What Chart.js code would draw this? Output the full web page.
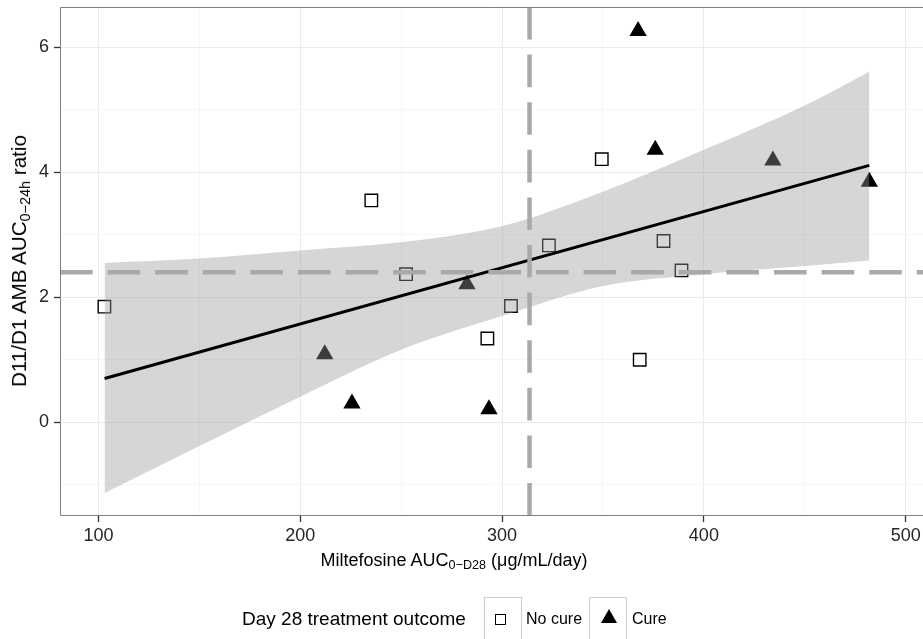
<!DOCTYPE html>
<html>
<head>
<meta charset="utf-8">
<title>Miltefosine AUC vs AMB ratio</title>
<script src="https://cdn.jsdelivr.net/npm/chart.js@4.4.0/dist/chart.umd.min.js"></script>
<style>
body { margin: 0; background: #fff; overflow: hidden; font-family: "Liberation Sans", Arial, sans-serif; color: #000; }
#wrap { position: relative; width: 923px; height: 639px; overflow: hidden; }
#plot { position: absolute; left: 0; top: 0; }
.sub { font-size: 0.7em; position: relative; top: 0.25em; }
#xtitle { position: absolute; left: 454px; top: 551px; transform: translateX(-50%); font-size: 18px; line-height: 18px; white-space: nowrap; }
#ytitle { position: absolute; left: 20px; top: 261px; transform: translate(-50%, -50%) rotate(-90deg); font-size: 20.6px; line-height: 20px; white-space: nowrap; }
.lg { position: absolute; white-space: nowrap; }
#lgtitle { left: 242px; top: 609px; font-size: 19px; line-height: 19px; }
.key { position: absolute; top: 597px; width: 38px; height: 60px; box-sizing: border-box; border: 1px solid #cccccc; background: #fff; }
.lab { top: 611px; font-size: 16px; line-height: 16px; }
#sq { position: absolute; left: 495px; top: 614px; width: 11px; height: 11px; box-sizing: border-box; border: 1.3px solid #000; }
#tri { position: absolute; left: 601px; top: 609px; width: 16px; height: 14px; background: #000; clip-path: polygon(50% 0, 100% 100%, 0 100%); }
</style>
</head>
<body>
<div id="wrap">
  <canvas id="plot" width="923" height="639"></canvas>
  <div id="ytitle">D11/D1 AMB AUC<span class="sub">0&#8722;24h</span> ratio</div>
  <div id="xtitle">Miltefosine AUC<span class="sub">0&#8722;D28</span> (&#956;g/mL/day)</div>
  <div class="lg" id="lgtitle">Day 28 treatment outcome</div>
  <div class="key" style="left:484px"></div>
  <div id="sq"></div>
  <div class="lg lab" style="left:526px">No cure</div>
  <div class="key" style="left:589px"></div>
  <div id="tri"></div>
  <div class="lg lab" style="left:632px">Cure</div>
</div>

<script>
// axis setup
const xTicks = [100, 200, 300, 400, 500];
const xMinor = [150, 250, 350, 450];
const yTicks = [0, 2, 4, 6];
const yMinor = [-1, 1, 3, 5];
const xRange = [80.9, 508.6];
const yRange = [-1.5, 6.645];

// patients, day 28 no cure
const noCureAuc   = [102.9, 235.2, 252.4, 304.4, 323.2, 349.4, 292.7, 368.2, 380.0, 388.9];
const noCureRatio = [1.85, 3.55, 2.37, 1.86, 2.83, 4.21, 1.34, 1.00, 2.90, 2.43];

// patients, day 28 cure
const cureAuc   = [367.4, 375.9, 434.2, 482.0, 212.1, 225.6, 293.5, 282.6];
const cureRatio = [6.26, 4.36, 4.19, 3.85, 1.09, 0.30, 0.21, 2.21];

// linear fit and its 95% band
const fitAuc   = [103, 482];
const fitRatio = [0.70, 4.11];
const bandAuc   = [103, 150, 200, 250, 300, 350, 400, 450, 482];
const bandUpper = [2.55, 2.62, 2.75, 2.88, 3.14, 3.69, 4.36, 5.07, 5.61];
const bandLower = [-1.13, -0.38, 0.41, 1.16, 1.70, 2.18, 2.37, 2.50, 2.59];

// thresholds
const aucCutoff = 313.6;
const ratioCutoff = 2.4;

const pts = (xs, ys) => xs.map((x, i) => ({ x: x, y: ys[i] }));

const font = '"Liberation Sans", Arial, sans-serif';
Chart.defaults.font.family = font;

// panel frame: left, top and bottom edges (the right edge runs off the canvas)
const panelBorder = {
  id: 'panelBorder',
  afterDatasetsDraw(chart) {
    const c = chart.ctx, a = chart.chartArea;
    c.save();
    c.strokeStyle = '#7f7f7f';
    c.lineWidth = 1;
    c.beginPath();
    c.moveTo(a.right + 2, a.top + 0.5);
    c.lineTo(a.left + 0.5, a.top + 0.5);
    c.lineTo(a.left + 0.5, a.bottom - 0.5);
    c.lineTo(a.right + 2, a.bottom - 0.5);
    c.stroke();
    c.restore();
  }
};

const dash = { borderColor: '#a9a9a9', borderWidth: 4.5, borderDash: [32.6, 15], borderCapStyle: 'butt',
               showLine: true, pointRadius: 0, fill: false };

new Chart(document.getElementById('plot'), {
  type: 'scatter',
  data: {
    datasets: [
      Object.assign({ data: [{ x: aucCutoff, y: yRange[1] }, { x: aucCutoff, y: yRange[0] }], order: 0 }, dash),
      Object.assign({ data: [{ x: xRange[0], y: ratioCutoff }, { x: xRange[1], y: ratioCutoff }], order: 1 }, dash),
      {
        data: pts(fitAuc, fitRatio), showLine: true, pointRadius: 0,
        borderColor: '#000', borderWidth: 3, order: 2
      },
      {
        data: pts(bandAuc, bandLower), showLine: true, pointRadius: 0,
        borderColor: 'rgba(0,0,0,0)', borderWidth: 0, cubicInterpolationMode: 'monotone', order: 3
      },
      {
        data: pts(bandAuc, bandUpper), showLine: true, pointRadius: 0,
        borderColor: 'rgba(0,0,0,0)', borderWidth: 0, cubicInterpolationMode: 'monotone',
        fill: '-1', backgroundColor: 'rgba(153,153,153,0.4)', order: 4
      },
      {
        label: 'No cure', data: pts(noCureAuc, noCureRatio), pointStyle: 'rect', pointRadius: 8.8,
        borderColor: '#000', borderWidth: 1.4, backgroundColor: 'rgba(0,0,0,0)', order: 5
      },
      {
        label: 'Cure', data: pts(cureAuc, cureRatio), pointStyle: 'triangle', pointRadius: 10,
        borderWidth: 0, backgroundColor: '#000', order: 6
      }
    ]
  },
  options: {
    responsive: false,
    animation: false,
    events: [],
    layout: { autoPadding: false, padding: { top: 7, right: 0, left: 0, bottom: 0 } },
    plugins: { legend: { display: false }, tooltip: { enabled: false } },
    scales: {
      x: {
        type: 'linear', min: xRange[0], max: xRange[1],
        afterBuildTicks: s => { s.ticks = xTicks.concat(xMinor).sort((a, b) => a - b).map(v => ({ value: v })); },
        afterFit: s => { s.height = 123; s.paddingLeft = 0; s.paddingRight = 0; },
        border: { display: false },
        grid: {
          color: ctx => xTicks.includes(ctx.tick.value) ? '#ebebeb' : '#f6f6f6',
          tickColor: ctx => xTicks.includes(ctx.tick.value) ? '#333333' : 'rgba(0,0,0,0)',
          tickLength: 6, tickWidth: 1.3
        },
        ticks: {
          callback: v => xTicks.includes(v) ? String(v) : '',
          autoSkip: false, maxRotation: 0, padding: 3,
          color: '#262626', font: { size: 18 }
        }
      },
      y: {
        type: 'linear', min: yRange[0], max: yRange[1],
        afterBuildTicks: s => { s.ticks = yTicks.concat(yMinor).sort((a, b) => a - b).map(v => ({ value: v })); },
        afterFit: s => { s.width = 60; s.paddingTop = 0; s.paddingBottom = 0; },
        border: { display: false },
        grid: {
          color: ctx => yTicks.includes(ctx.tick.value) ? '#ebebeb' : '#f6f6f6',
          tickColor: ctx => yTicks.includes(ctx.tick.value) ? '#333333' : 'rgba(0,0,0,0)',
          tickLength: 6, tickWidth: 1.3
        },
        ticks: {
          callback: v => yTicks.includes(v) ? String(v) : '',
          autoSkip: false, padding: 5,
          color: '#262626', font: { size: 18 }
        }
      }
    }
  },
  plugins: [panelBorder]
});
</script>
</body>
</html>
